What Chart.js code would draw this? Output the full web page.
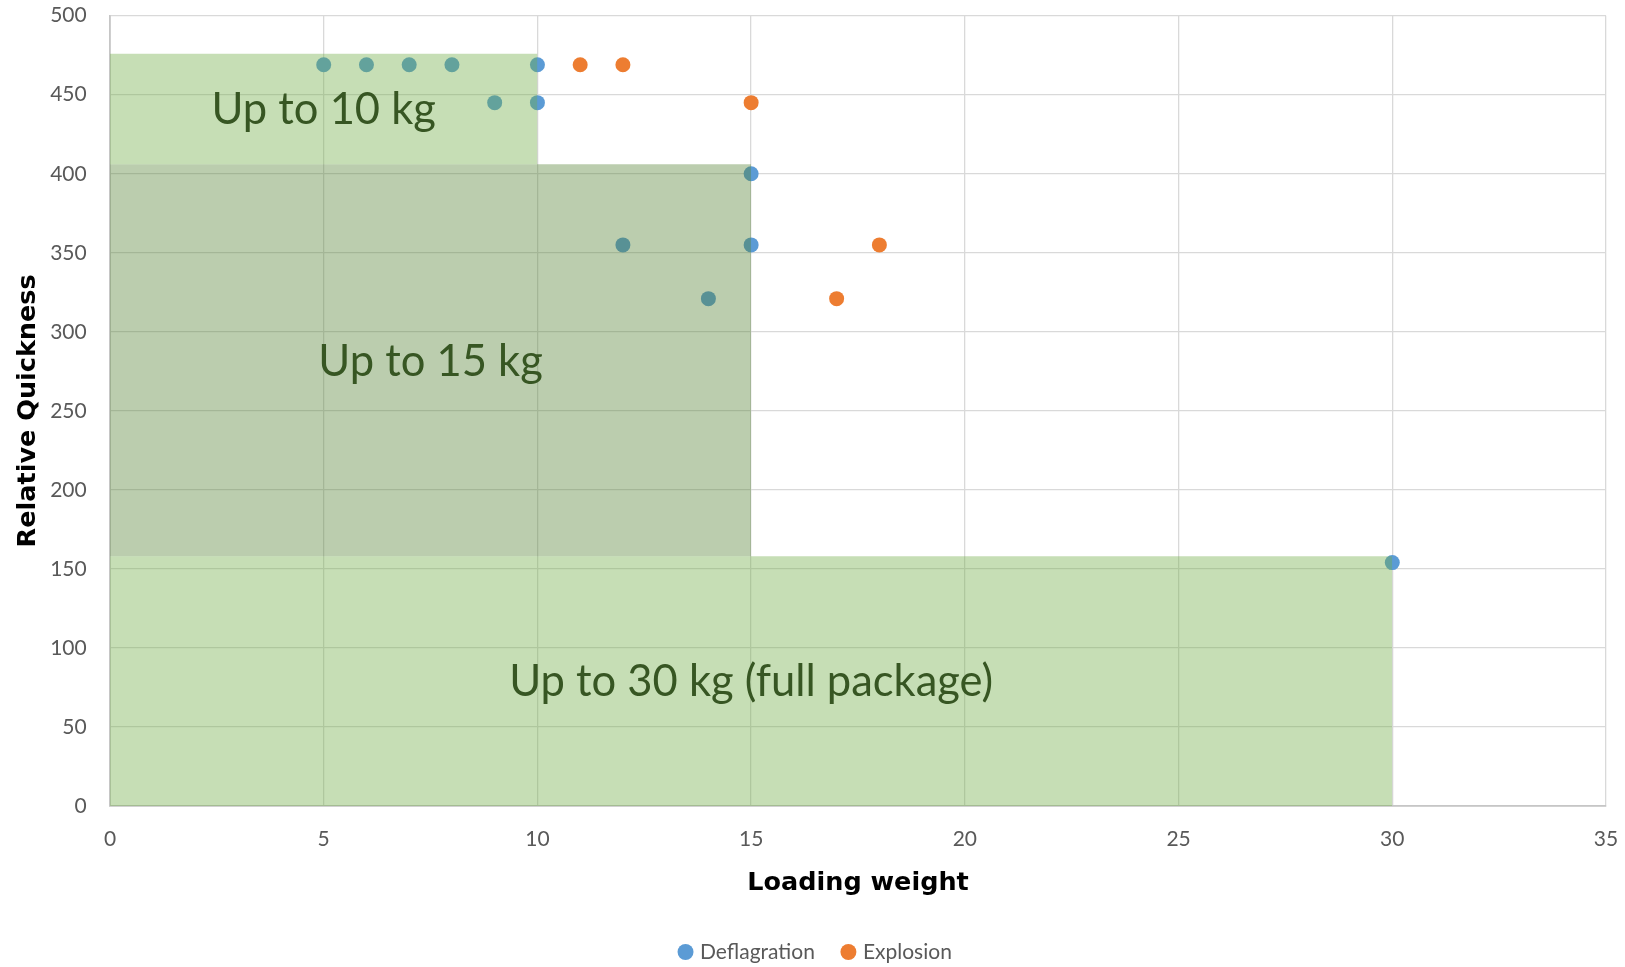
<!DOCTYPE html>
<html><head><meta charset="utf-8">
<script src="https://cdn.jsdelivr.net/npm/chart.js@4/dist/chart.umd.min.js"></script>
<style>html,body{margin:0;padding:0;background:#fff;overflow:hidden}
canvas{display:block;position:absolute;left:0;top:0}</style>
</head><body>
<canvas id="c" width="1625" height="967"></canvas>
<script>
// ---- data ----
const deflagrationX = [5, 6, 7, 8, 10, 9, 10, 15, 12, 15, 14, 30];
const deflagrationY = [469, 469, 469, 469, 469, 445, 445, 400, 355, 355, 321, 154];
const explosionX = [11, 12, 15, 18, 17];
const explosionY = [469, 469, 445, 355, 321];
const zoneLabels = ['Up to 10 kg', 'Up to 15 kg', 'Up to 30 kg (full package)'];
const zoneXMax = [10, 15, 30];
const zoneYLow = [406, 158, 0];
const zoneYHigh = [476, 406, 158];
const xTickValues = [0, 5, 10, 15, 20, 25, 30, 35];
const yTickValues = [0, 50, 100, 150, 200, 250, 300, 350, 400, 450, 500];
const seriesNames = ['Deflagration', 'Explosion'];

// ---- styles ----
const zoneColors = ['rgba(112,173,71,0.40)', 'rgba(84,130,53,0.40)', 'rgba(112,173,71,0.40)'];
const tickFont = {family: 'Lato', size: 21};
const titleFont = {family: 'DejaVu Sans', size: 25.5, weight: 'bold'};

const zoneDatasets = zoneLabels.map((name, i) => ({
  type: 'line',
  label: name,
  data: [{x: 0, y: zoneYHigh[i]}, {x: zoneXMax[i], y: zoneYHigh[i]}],
  fill: {value: zoneYLow[i]},
  backgroundColor: zoneColors[i],
  borderWidth: 0,
  borderColor: 'rgba(0,0,0,0)',
  pointRadius: 0,
  order: 0,
  isZone: true
}));

const zoneTextPlugin = {
  id: 'zoneText',
  afterDatasetsDraw(chart) {
    const {ctx, scales: {x, y}} = chart;
    ctx.save();
    ctx.fillStyle = '#375623';
    ctx.font = '43.5px Lato';
    ctx.textAlign = 'center';
    ctx.textBaseline = 'alphabetic';
    zoneLabels.forEach((t, i) => {
      const px = x.getPixelForValue(zoneXMax[i] / 2);
      const py = y.getPixelForValue((zoneYLow[i] + zoneYHigh[i]) / 2);
      ctx.fillText(t, px, py + 15.3);
    });
    ctx.restore();
  }
};

new Chart(document.getElementById('c'), {
  type: 'scatter',
  data: {
    datasets: [
      {label: seriesNames[0], data: deflagrationX.map((v, i) => ({x: v, y: deflagrationY[i]})),
       backgroundColor: '#5B9BD5', borderWidth: 0, pointRadius: 7.5, order: 1},
      {label: seriesNames[1], data: explosionX.map((v, i) => ({x: v, y: explosionY[i]})),
       backgroundColor: '#ED7D31', borderWidth: 0, pointRadius: 7.5, order: 1},
      ...zoneDatasets
    ]
  },
  options: {
    responsive: false,
    animation: false,
    devicePixelRatio: 1,
    layout: {autoPadding: false, padding: {left: 27.4, right: 19, top: 15.7, bottom: -5.5}},
    plugins: {
      tooltip: {enabled: false},
      legend: {
        position: 'bottom',
        labels: {
          usePointStyle: true, pointStyle: 'circle', boxWidth: 8, boxHeight: 11.3,
          padding: 29.5, color: '#595959', font: tickFont,
          filter: (item, data) => !data.datasets[item.datasetIndex].isZone
        }
      }
    },
    scales: {
      x: {
        type: 'linear', min: 0, max: 35,
        afterBuildTicks: s => { s.ticks = xTickValues.map(v => ({value: v})); },
        afterFit: s => { s.height = 106; s.paddingLeft = 0; s.paddingRight = 0; },
        grid: {color: '#D9D9D9', lineWidth: 1.3, drawTicks: false},
        border: {color: '#C6C6C6', width: 1.8},
        ticks: {color: '#595959', font: tickFont, padding: 21, maxRotation: 0},
        title: {display: true, text: 'Loading weight', color: '#000', font: titleFont, padding: {top: 0, bottom: 13.7}}
      },
      y: {
        type: 'linear', min: 0, max: 500,
        afterBuildTicks: s => { s.ticks = yTickValues.map(v => ({value: v})); },
        afterFit: s => { s.width = 82.6; s.paddingTop = 0; s.paddingBottom = 0; },
        grid: {color: '#D9D9D9', lineWidth: 1.3, drawTicks: false},
        border: {color: '#C6C6C6', width: 1.8},
        ticks: {color: '#595959', font: tickFont, padding: 23.3},
        title: {display: true, text: 'Relative Quickness', color: '#000', font: titleFont, padding: {top: -14.5, bottom: 0}}
      }
    }
  },
  plugins: [zoneTextPlugin]
});
</script>
</body></html>
